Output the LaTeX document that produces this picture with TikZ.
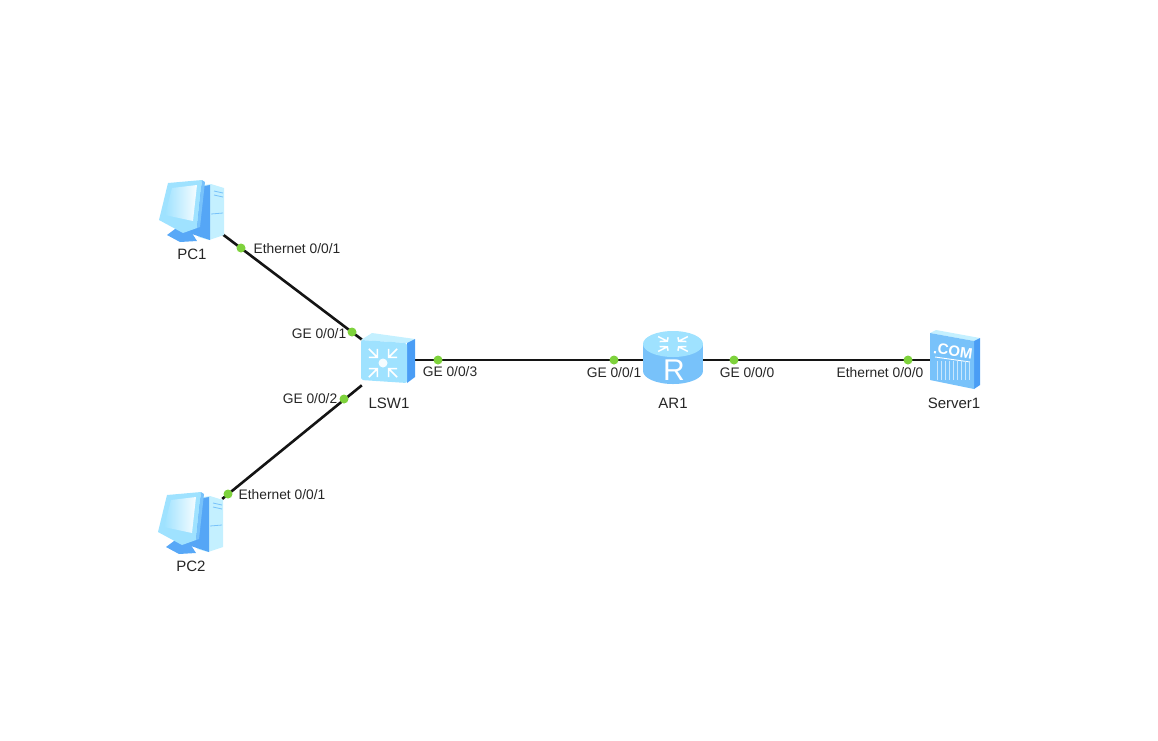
\documentclass[tikz,border=0pt]{standalone}
\usepackage{fontspec}
\setmainfont{Liberation Sans}
\usetikzlibrary{positioning}

\definecolor{linkblack}{HTML}{141414}
\definecolor{portgreen}{HTML}{7ED23C}
\definecolor{labelgrey}{HTML}{262626}
\definecolor{iconpale}{HTML}{C4F0FF}
\definecolor{iconlight}{HTML}{9FE2FF}
\definecolor{iconmid}{HTML}{78C2FA}
\definecolor{icondark}{HTML}{4A9DF5}

\tikzset{
    link/.style={draw=linkblack, line width=2.6pt},
    port/.style={circle, fill=portgreen, inner sep=0pt, minimum size=9pt},
    txt/.style={text=labelgrey, inner sep=0pt, font=\fontsize{13.8}{16}\selectfont},
    devname/.style={txt, font=\fontsize{15}{18}\selectfont},
    pcbox/.style={minimum width=64pt, minimum height=60pt, inner sep=0pt},
    swbox/.style={minimum width=52pt, minimum height=52pt, inner sep=0pt},
    arbox/.style={minimum width=60pt, minimum height=50pt, inner sep=0pt},
    srvbox/.style={minimum width=50pt, minimum height=58pt, inner sep=0pt},
    pcicon/.pic={
        % tower
        \fill[iconpale] (7,-27) -- (20,-29) -- (33,-25) -- (33,22) -- (18,27) -- (7,24) -- cycle;
        \fill[icondark!75!iconmid] (7,-26) -- (19,-28) -- (19,27) -- (-2,20) -- cycle;
        \draw[iconmid, line width=.8pt] (23,-22) -- (32,-20) (23,-18) -- (32,-16) (20,1) -- (32,0);
        % base
        \fill[icondark!70!iconmid] (-24,22) -- (-16,16) -- (-1,17) -- (6,28) -- (-11,29) -- cycle;
        % monitor
        \fill[iconlight] (-32,7) -- (-23,-30) -- (11,-33) -- (6,15) -- (-8,20) -- cycle;
        \fill[iconmid] (11,-33) -- (14,-31) -- (9,14) -- (6,15) -- cycle;
        \shade[left color=iconlight, right color=white!85!iconpale] (-26,2) -- (-19,-25) -- (6,-28) -- (2,8) -- cycle;
    },
    swicon/.pic={
        \fill[iconpale] (-27,-20) -- (-16,-27) -- (27,-21) -- (19,-17) -- cycle;
        \fill[icondark] (19,-17) -- (27,-21) -- (27,17) -- (19,23) -- cycle;
        \fill[iconlight, rounded corners=2pt] (-27,-20) -- (19,-17) -- (19,23) -- (-27,20) -- cycle;
        \fill[white!90!iconlight] (-5,3) circle (4.5);
        \foreach \ang in {45,135,225,315} {
            \draw[white, line width=1.6pt, shift={(-5,3)}, rotate=\ang]
                (20,0) -- (8,0) (14,-6) -- (8,0) -- (14,6);
        }
    },
    aricon/.pic={
        \fill[iconmid] (-30,-16) rectangle (30,11);
        \fill[iconmid] (0,11) ellipse (30 and 13);
        \fill[iconlight] (0,-16) ellipse (30 and 13);
        \foreach \ang in {45,135,225,315} {
            \draw[white, line width=1.5pt, shift={(0,-16)}, yscale=.5, rotate=\ang]
                (21,0) -- (8,0) (13,-6) -- (8,0) -- (13,6);
        }
        \node[text=white, inner sep=0pt, font=\fontsize{30}{30}\selectfont] (routerR) at (1,10) {R};
    },
    srvicon/.pic={
        \fill[iconpale] (-25,-27) -- (-19,-30) -- (25,-22) -- (19,-19) -- cycle;
        \fill[icondark] (19,-19) -- (25,-22) -- (25,25) -- (19,29) -- cycle;
        \fill[iconmid] (-25,-27) -- (19,-19) -- (19,29) -- (-25,20) -- cycle;
        \node[text=white, inner sep=0pt, rotate=-8, font=\bfseries\fontsize{15}{15}\selectfont] (dotcom) at (-2,-9) {.COM};
        \draw[white, line width=.9pt] (-20,-3) -- (15,2);
        \foreach \xx in {-18,-14,...,14} {
            \draw[white!60!iconmid, line width=1pt] (\xx,1) -- (\xx,20);
        }
    },
}

\begin{document}
\begin{tikzpicture}[x=1pt, y=-1pt]
        \useasboundingbox (0,0) rectangle (1158,740);

        % devices
        \node[pcbox] (PC1) at (191,213) {};
        \node[pcbox] (PC2) at (190,525) {};
        \node[swbox] (LSW1) at (388,360) {};
        \node[arbox] (AR1) at (673,360) {};
        \node[srvbox] (Server1) at (955,360) {};

        % links
        \draw[link] (PC1.-34) -- (LSW1.142);
        \draw[link] (PC2.39) -- (LSW1.224);
        \draw[link] (LSW1.east) -- (AR1.west);
        \draw[link] (AR1.east) -- (Server1.west);

        \pic at (PC1) {pcicon};
        \pic at (PC2) {pcicon};
        \pic at (LSW1) {swicon};
        \pic at (AR1) {aricon};
        \pic at (Server1) {srvicon};

        % ports
        \node[port] (p1) at (241,248) {};
        \node[port] (p2) at (352,332) {};
        \node[port] (p3) at (344,399) {};
        \node[port] (p4) at (228,494) {};
        \node[port] (p5) at (438,360) {};
        \node[port] (p6) at (614,360) {};
        \node[port] (p7) at (734,360) {};
        \node[port] (p8) at (908,360) {};

        % port labels
        \node[txt] (l1) at (297,249) {Ethernet 0/0/1};
        \node[txt] (l2) at (319,334) {GE 0/0/1};
        \node[txt] (l3) at (310,399) {GE 0/0/2};
        \node[txt] (l4) at (282,494.500) {Ethernet 0/0/1};
        \node[txt] (l5) at (450,372) {GE 0/0/3};
        \node[txt] (l6) at (614,373) {GE 0/0/1};
        \node[txt] (l7) at (747,373) {GE 0/0/0};
        \node[txt] (l8) at (880,373) {Ethernet 0/0/0};

        % device names
        \node[devname] (n1) at (192,254) {PC1};
        \node[devname] (n2) at (191,566) {PC2};
        \node[devname] (n3) at (389,403) {LSW1};
        \node[devname] (n4) at (673,403) {AR1};
        \node[devname] (n5) at (954,403) {Server1};
\end{tikzpicture}
\end{document}
